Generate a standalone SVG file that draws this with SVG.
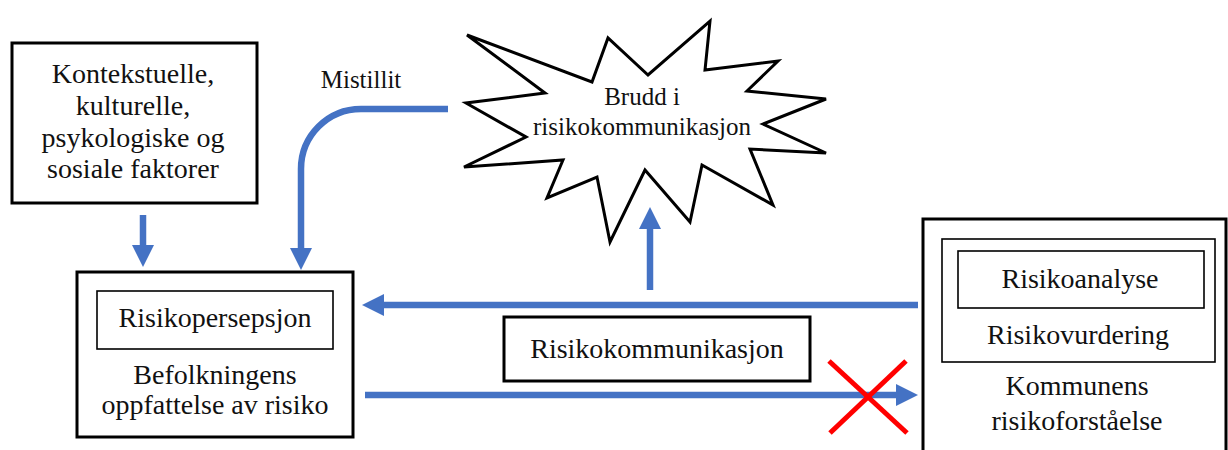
<svg xmlns="http://www.w3.org/2000/svg" width="1228" height="450" viewBox="0 0 1228 450">
<defs>
<style>
.box{fill:#fff;stroke:#000;stroke-width:3}
.inner{fill:none;stroke:#000;stroke-width:1.6}
.t{font-family:"Liberation Serif","Times New Roman",serif;font-size:28px;fill:#111;text-anchor:middle}
.ts{font-family:"Liberation Serif","Times New Roman",serif;font-size:25px;fill:#111;text-anchor:middle}
.conn{fill:none;stroke:#4472C4;stroke-width:6.5}
</style>
<marker id="ah" markerUnits="userSpaceOnUse" markerWidth="24" markerHeight="24" refX="12" refY="11" orient="auto">
<path d="M0,0 L22,11 L0,22 z" fill="#4472C4"/>
</marker>
</defs>
<rect width="1228" height="450" fill="#fff"/>

<g id="connectors">
<line class="conn" x1="143" y1="215" x2="143" y2="257" marker-end="url(#ah)"/>
<path class="conn" d="M448,109 H361 A60,60 0 0 0 301,169 V260" marker-end="url(#ah)"/>
<line class="conn" x1="650" y1="290" x2="650" y2="217" marker-end="url(#ah)"/>
<line class="conn" x1="918" y1="305" x2="372" y2="305" marker-end="url(#ah)"/>
<line class="conn" x1="365" y1="395" x2="908" y2="395" marker-end="url(#ah)"/>
</g>

<g id="cross">
<line x1="829" y1="361" x2="907" y2="433" stroke="#FF0000" stroke-width="5"/>
<line x1="906" y1="361" x2="830" y2="433" stroke="#FF0000" stroke-width="5"/>
</g>

<g id="mistillit-label">
<text class="ts" x="361" y="88">Mistillit</text>
</g>

<g id="faktorer">
<rect class="box" x="12" y="43" width="245" height="160"/>
<text class="t" x="133" y="83">Kontekstuelle,</text>
<text class="t" x="133" y="115">kulturelle,</text>
<text class="t" x="133" y="147">psykologiske og</text>
<text class="t" x="133" y="178">sosiale faktorer</text>
</g>

<g id="brudd">
<polygon points="467,35 592,82 608,38 648,75 710,21 705,70 778,61 747,91 826,99 763,124 826,153 750,149 773,205 702,165 690,222 645,170 610,242 597,177 547,198 563,160 464,167 526,137 466,103 545,93" fill="#fff" stroke="#000" stroke-width="3" stroke-linejoin="miter"/>
<text class="ts" x="642" y="105">Brudd i</text>
<text class="ts" x="642" y="135">risikokommunikasjon</text>
</g>

<g id="befolkningen">
<rect class="box" x="77" y="272" width="276" height="165"/>
<rect class="inner" x="97" y="291" width="236" height="58"/>
<text class="t" x="215" y="327">Risikopersepsjon</text>
<text class="t" x="215" y="384">Befolkningens</text>
<text class="t" x="215" y="414">oppfattelse av risiko</text>
</g>

<g id="risikokommunikasjon">
<rect class="box" x="504" y="317" width="306" height="64"/>
<text class="t" x="657" y="358">Risikokommunikasjon</text>
</g>

<g id="kommunen">
<rect class="box" x="923" y="219" width="303" height="245"/>
<rect class="inner" x="942" y="239" width="273" height="123"/>
<rect class="inner" x="958" y="251" width="246" height="57"/>
<text class="t" x="1080" y="288">Risikoanalyse</text>
<text class="t" x="1078" y="344">Risikovurdering</text>
<text class="t" x="1077" y="395">Kommunens</text>
<text class="t" x="1077" y="430">risikoforståelse</text>
</g>
</svg>
